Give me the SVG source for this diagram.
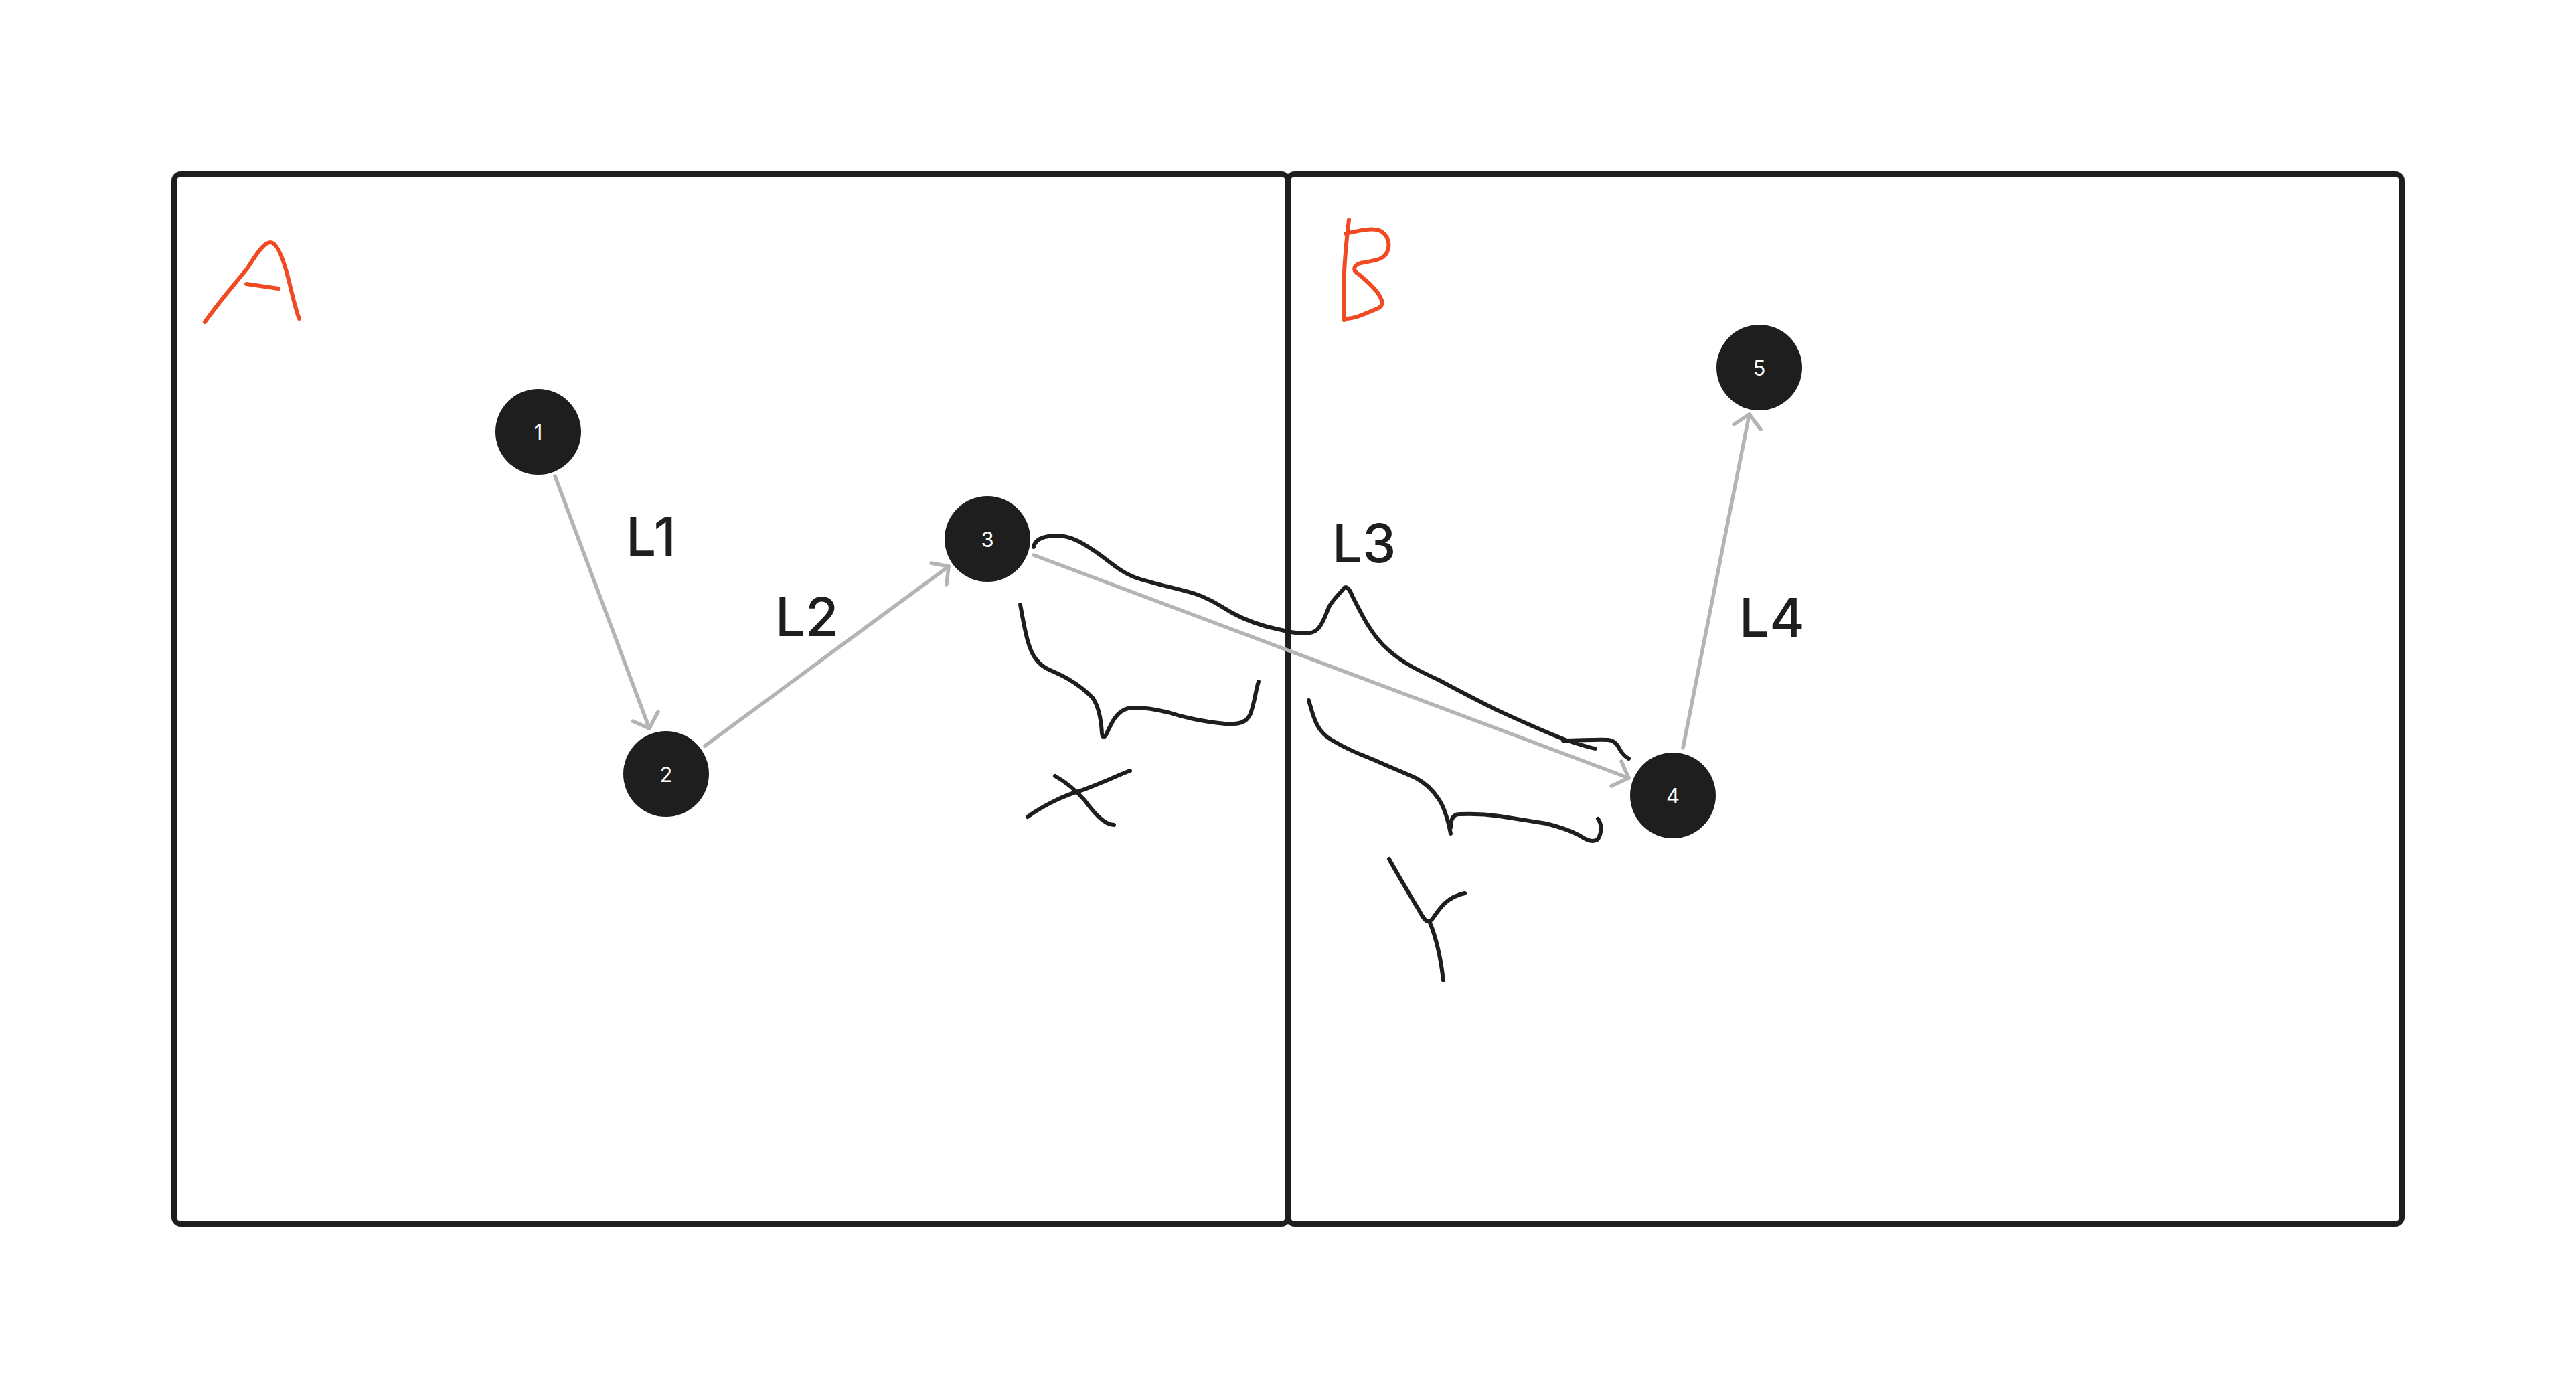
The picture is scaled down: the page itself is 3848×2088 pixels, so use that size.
<svg xmlns="http://www.w3.org/2000/svg" width="3848" height="2088" viewBox="0 0 3848 2088">
<defs>
<style>
.frame{fill:none;stroke:#1e1e1e;stroke-width:8}
.node circle{fill:#1e1e1e}
.node text{fill:#ffffff;font-family:Inter,"Liberation Sans",sans-serif;font-size:31px;text-anchor:middle;dominant-baseline:central}
.edge{fill:none;stroke:#b4b4b4;stroke-width:5.5;stroke-linecap:round;stroke-linejoin:round}
.lbl{fill:#1e1e1e;font-family:Inter,"Liberation Sans",sans-serif;font-size:80px;font-weight:500}
.ink{fill:none;stroke:#1e1e1e;stroke-width:6;stroke-linecap:round;stroke-linejoin:round}
.red{fill:none;stroke:#f04a23;stroke-width:6;stroke-linecap:round;stroke-linejoin:round}
</style>
</defs>
<rect width="3848" height="2088" fill="#ffffff"/>
<g id="frameA"><rect class="frame" x="260" y="260" width="1664" height="1568" rx="10"/></g>
<g id="frameB"><rect class="frame" x="1924" y="260" width="1664" height="1568" rx="10"/></g>

<g id="letterA">
<path class="red" d="M306,481 C330,447 350,425 370,400 C385,376 395,362 404,362 C412,362 420,378 428,406 C436,436 441,462 447,476"/>
<path class="red" d="M368,424 L416,431"/>
</g>
<g id="letterB">
<path class="red" d="M2015,328 C2010,370 2005,420 2008,478"/>
<path class="red" d="M2010,349 C2030,345 2045,340 2060,344 C2075,350 2078,368 2070,380 C2062,390 2045,390 2032,393 C2022,396 2020,404 2029,409 C2042,420 2056,432 2062,444 C2068,455 2062,459 2057,461 C2040,468 2025,476 2010,476"/>
</g>

<g id="connectors">
<g id="e1"><path class="edge" d="M829,711 L970,1088"/><path class="edge" d="M945,1077 L970,1088 L983,1063"/></g>
<g id="e2"><path class="edge" d="M1053,1114 L1417,846"/><path class="edge" d="M1391,841 L1417,846 L1414,873"/></g>
<g id="e3"><path class="edge" d="M1544,829 L2433,1162"/><path class="edge" d="M2407,1174 L2433,1162 L2422,1137"/></g>
<g id="e4"><path class="edge" d="M2514,1117 L2613,619"/><path class="edge" d="M2590,634 L2613,619 L2630,641"/></g>
</g>

<g id="n1" class="node"><circle cx="804" cy="645" r="64"/><text x="804" y="645">1</text></g>
<g id="n2" class="node"><circle cx="995" cy="1156" r="64"/><text x="995" y="1156">2</text></g>
<g id="n3" class="node"><circle cx="1475" cy="805" r="64"/><text x="1475" y="805">3</text></g>
<g id="n4" class="node"><circle cx="2499" cy="1188" r="64"/><text x="2499" y="1188">4</text></g>
<g id="n5" class="node"><circle cx="2628" cy="549" r="64"/><text x="2628" y="549">5</text></g>

<g id="labels">
<text class="lbl" x="935" y="830">L1</text>
<text class="lbl" x="1158" y="950">L2</text>
<text class="lbl" x="1990" y="840">L3</text>
<text class="lbl" x="2598" y="951">L4</text>
</g>

<g id="ink">
<path class="ink" d="M1544,817 C1546,806 1558,800 1580,800 C1600,800 1620,812 1645,830 C1665,845 1680,858 1700,864 C1725,872 1755,878 1783,886 C1805,893 1820,903 1840,915 C1860,926 1880,934 1910,940 C1935,946 1958,950 1968,940 C1978,930 1982,912 1986,905 C1992,895 2000,888 2008,878 C2012,875 2016,880 2020,890 C2035,920 2050,950 2073,970 C2095,990 2120,1002 2150,1016 C2180,1032 2205,1045 2235,1060 C2270,1076 2300,1090 2341,1106 C2360,1112 2372,1116 2383,1118"/>
<path class="ink" d="M2335,1106 C2360,1106 2385,1104 2402,1105 C2412,1106 2416,1112 2420,1120 C2425,1128 2429,1131 2433,1133"/>
<path class="ink" d="M1524,903 C1530,935 1535,970 1548,985 C1556,996 1566,1000 1578,1005 C1600,1015 1618,1028 1632,1042 C1642,1056 1645,1078 1646,1095 C1647,1103 1650,1102 1653,1096 C1660,1080 1668,1062 1685,1058 C1700,1055 1720,1058 1745,1064 C1770,1072 1800,1078 1830,1081 C1850,1082 1862,1080 1868,1066 C1874,1050 1876,1030 1880,1018"/>
<path class="ink" d="M1576,1159 C1592,1168 1605,1178 1620,1195 C1635,1215 1650,1232 1664,1232"/>
<path class="ink" d="M1535,1220 C1560,1202 1590,1188 1614,1181 C1640,1172 1665,1160 1688,1151"/>
<path class="ink" d="M1955,1046 C1962,1070 1966,1092 1989,1105 C2010,1118 2030,1126 2055,1136 C2075,1145 2095,1153 2115,1162 C2130,1170 2140,1180 2148,1192 C2158,1205 2163,1225 2167,1245"/>
<path class="ink" d="M2167,1236 C2167,1225 2170,1216 2180,1216 C2200,1215 2220,1216 2240,1219 C2265,1223 2290,1227 2310,1230 C2330,1235 2345,1240 2360,1248 C2370,1255 2380,1258 2386,1254 C2392,1247 2394,1232 2387,1223"/>
<path class="ink" d="M2075,1283 C2090,1310 2105,1335 2120,1360 C2128,1375 2133,1381 2140,1372 C2150,1358 2160,1340 2188,1334"/>
<path class="ink" d="M2136,1378 C2145,1400 2152,1430 2156,1464"/>
</g>
</svg>
